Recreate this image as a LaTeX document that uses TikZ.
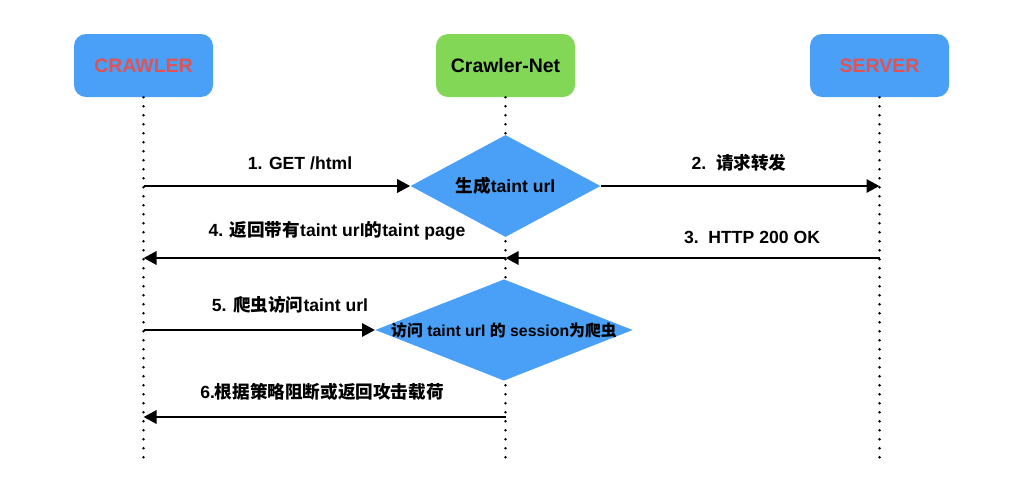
\documentclass[tikz,border=0pt]{standalone}
\usepackage{fontspec}
\setmainfont{Liberation Sans}
\newfontfamily\cjk{Noto Sans CJK SC}
\usetikzlibrary{arrows.meta,shapes.geometric}
\definecolor{boxblue}{RGB}{74,160,246}
\definecolor{netgreen}{RGB}{130,216,86}
\definecolor{namered}{RGB}{226,82,82}
\newcommand{\zh}[1]{{\cjk #1}}

\begin{document}
\begin{tikzpicture}[x=0.75pt,y=-0.75pt,
  actor/.style={rounded corners=9pt, minimum width=104.25pt, minimum height=47.25pt, font=\bfseries\fontsize{14.6}{16}\selectfont},
  decide/.style={diamond, fill=boxblue, inner sep=0pt},
  life/.style={line width=2.2pt, line cap=round, dash pattern=on 0pt off 6.75pt},
  msg/.style={line width=2.2pt, -{Triangle[length=9.75pt,width=9.75pt]}},
  lbl/.style={font=\bfseries\fontsize{13.2}{15}\selectfont}]
\useasboundingbox (0,0) rectangle (1024,500);

% the three parties
\node[actor, fill=boxblue, text=namered] (crawler) at (143.5,65.5) {CRAWLER};
\node[actor, fill=netgreen] (net) at (505.5,65.5) {Crawler-Net};
\node[actor, fill=boxblue, text=namered] (server) at (879.5,65.5) {SERVER};

% lifelines
\draw[life] (crawler.south) -- (crawler.south |- 0,458);
\draw[life] (net.south) -- (net.south |- 0,458);
\draw[life] (server.south) -- (server.south |- 0,458);

% decisions on the Crawler-Net line
\node[decide, minimum width=142.5pt, minimum height=76.5pt,
  label={[lbl]center:\zh{生成}taint url}] (gen) at (505.5,186) {};
\node[decide, minimum width=193pt, minimum height=76pt,
  label={[font=\bfseries\fontsize{11.9}{14}\selectfont]center:\zh{访问} taint url \zh{的} session\zh{为爬虫}}] (visit) at (504,330) {};

% points on the lifelines
\coordinate (cr1) at (crawler.south |- 0,186);
\coordinate (sv1) at (server.south |- 0,186);
\coordinate (sv2) at (server.south |- 0,258);
\coordinate (nt2) at (net.south |- 0,258);
\coordinate (cr2) at (crawler.south |- 0,258);
\coordinate (cr3) at (crawler.south |- visit.west);
\coordinate (nt4) at (net.south |- 0,417);
\coordinate (cr4) at (crawler.south |- 0,417);

% messages
\draw[msg] (cr1) -- (gen.west);
\draw[msg] (gen.east) -- (sv1);
\draw[msg] (sv2) -- (nt2);
\draw[msg] (nt2) -- (cr2);
\draw[msg] (cr3) -- (visit.west);
\draw[msg] (nt4) -- (cr4);

\node[lbl] (get) at (300,163) {1. GET /html};
\node[lbl] (fwd) at (739,163) {2.\ \ \zh{请求转发}};
\node[lbl] (ok) at (752,237) {3.\ \ HTTP 200 OK};
\node[lbl] (back) at (337,231) {4. \zh{返回带有}taint url\zh{的}taint page};
\node[lbl] (crawl) at (290,305) {5. \zh{爬虫访问}taint url};
\node[lbl] (block) at (322,392) {6.\zh{根据策略阻断或返回攻击载荷}};
\end{tikzpicture}
\end{document}
